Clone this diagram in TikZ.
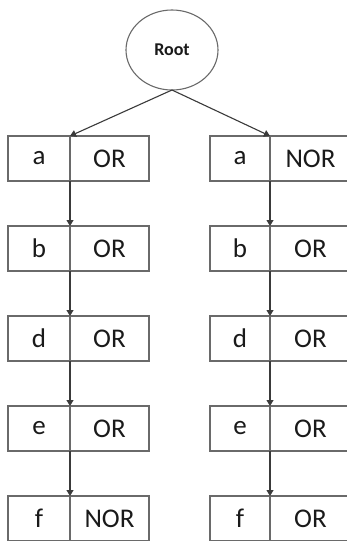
\documentclass[tikz,border=0pt]{standalone}
\usepackage{fontspec}
\setmainfont{Carlito}
\usetikzlibrary{shapes.geometric,arrows.meta}

\definecolor{boxline}{HTML}{6A6A6A}
\definecolor{arrowline}{HTML}{3A3A3A}
\definecolor{inktext}{HTML}{1A1A1A}

\tikzset{
  cell/.style={draw=boxline, line width=1.1pt, rectangle, inner sep=0pt, outer sep=0pt,
    minimum height=45pt, anchor=north west, text=inktext, font=\fontsize{27}{30}\selectfont},
  keycell/.style={cell, minimum width=#1},
  opcell/.style={cell, minimum width=#1},
  rootnode/.style={draw=boxline, line width=1.1pt, ellipse, minimum width=92pt, minimum height=80pt,
    inner sep=0pt, outer sep=0pt, text=inktext, font=\fontsize{18}{20}\bfseries\selectfont},
  link/.style={draw=arrowline, line width=1.1pt, -{Triangle[width=7pt,length=6pt]}}
}

\begin{document}
\begin{tikzpicture}[x=1pt,y=-1pt]
  \useasboundingbox (0,0) rectangle (347,541);
  \clip (0,0) rectangle (347,541);
  \fill[white] (0,0) rectangle (347,541);

  \node[rootnode] (root) at (172,50) {Root};

  % left chain
  \node[keycell=62pt] (L1k) at (8,136) {a};
  \node[opcell=79pt]  (L1o) at (70,136) {OR};
  \node[keycell=62pt] (L2k) at (8,226) {b};
  \node[opcell=79pt]  (L2o) at (70,226) {OR};
  \node[keycell=62pt] (L3k) at (8,316) {d};
  \node[opcell=79pt]  (L3o) at (70,316) {OR};
  \node[keycell=62pt] (L4k) at (8,406) {e};
  \node[opcell=79pt]  (L4o) at (70,406) {OR};
  \node[keycell=62pt] (L5k) at (8,496) {f};
  \node[opcell=79pt]  (L5o) at (70,496) {NOR};

  % right chain
  \node[keycell=60pt] (R1k) at (210,136) {a};
  \node[opcell=81pt]  (R1o) at (270,136) {NOR};
  \node[keycell=60pt] (R2k) at (210,226) {b};
  \node[opcell=81pt]  (R2o) at (270,226) {OR};
  \node[keycell=60pt] (R3k) at (210,316) {d};
  \node[opcell=81pt]  (R3o) at (270,316) {OR};
  \node[keycell=60pt] (R4k) at (210,406) {e};
  \node[opcell=81pt]  (R4o) at (270,406) {OR};
  \node[keycell=60pt] (R5k) at (210,496) {f};
  \node[opcell=81pt]  (R5o) at (270,496) {OR};

  % root to first cells
  \draw[link] (root.south) -- (L1o.north west);
  \draw[link] (root.south) -- (R1o.north west);

  % chain links along the cell dividers
  \foreach \s in {L,R}{
    \foreach \i/\j in {1/2,2/3,3/4,4/5}{
      \draw[link] (\s\i o.south west) -- (\s\j o.north west);
    }
  }
\end{tikzpicture}
\end{document}
